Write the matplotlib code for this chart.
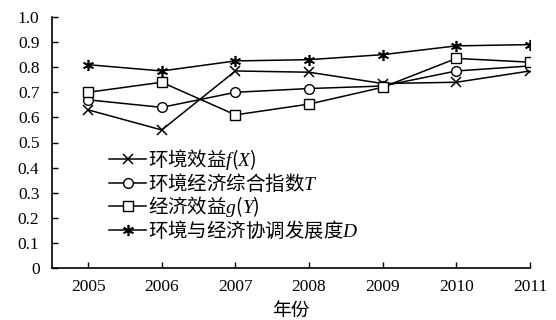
import matplotlib.pyplot as plt
import numpy as np

plt.rcParams['font.family'] = ['Liberation Serif', 'Noto Sans CJK SC']
plt.rcParams['mathtext.fontset'] = 'custom'
plt.rcParams['mathtext.rm'] = 'Noto Sans CJK SC'
plt.rcParams['mathtext.it'] = 'Liberation Serif:italic'

years = [2005, 2006, 2007, 2008, 2009, 2010, 2011]
f_x = [0.63, 0.55, 0.785, 0.78, 0.735, 0.74, 0.785]
t_idx = [0.67, 0.64, 0.70, 0.715, 0.725, 0.785, 0.805]
g_y = [0.70, 0.74, 0.61, 0.653, 0.72, 0.835, 0.82]
d_coord = [0.81, 0.785, 0.825, 0.83, 0.85, 0.885, 0.89]

labels = [r'$\mathrm{环境效益}f(X)$', r'$\mathrm{环境经济综合指数}T$',
          r'$\mathrm{经济效益}g(Y)$', r'$\mathrm{环境与经济协调发展度}D$']
yticks = [0, 0.1, 0.2, 0.3, 0.4, 0.5, 0.6, 0.7, 0.8, 0.9, 1.0]
ylabels = ['0', '0.1', '0.2', '0.3', '0.4', '0.5', '0.6', '0.7', '0.8', '0.9', '1.0']

fig = plt.figure(figsize=(5.56, 3.2), dpi=100)
ax = fig.add_axes([52/556, 1 - 268/320, (530 - 52)/556, (268 - 17)/320])

ms = 7
ax.plot(years, f_x, color='black', lw=1.1, marker='x', ms=ms, mew=1.1, label=labels[0])
ax.plot(years, t_idx, color='black', lw=1.1, marker='o', ms=ms, mfc='white', mew=1.0, label=labels[1])
ax.plot(years, g_y, color='black', lw=1.1, marker='s', ms=ms, mfc='white', mew=1.0, label=labels[2])
ax.plot(years, d_coord, color='black', lw=1.1, marker=(6, 2, 0), ms=ms + 1, mew=1.2, label=labels[3])

ax.set_xlim(2004.51, 2011)
ax.set_ylim(0, 1.0)
ax.set_xticks(years)
ax.set_yticks(yticks)
ax.set_yticklabels(ylabels)
ax.tick_params(direction='in', labelsize=12.5, length=4, width=1)
ax.tick_params(axis='x', pad=8)
ax.tick_params(axis='y', pad=9)
ax.spines['top'].set_visible(False)
ax.spines['right'].set_visible(False)
ax.spines['left'].set_linewidth(1.2)
ax.spines['bottom'].set_linewidth(1.2)
ax.set_xlabel('年份', fontsize=13.5, labelpad=6)

ax.legend(loc='lower left', bbox_to_anchor=(0.098, 0.07), frameon=False, fontsize=14,
          handlelength=1.95, handletextpad=0.1, labelspacing=0.0, borderpad=0)

fig.savefig('out.png', dpi=100)
